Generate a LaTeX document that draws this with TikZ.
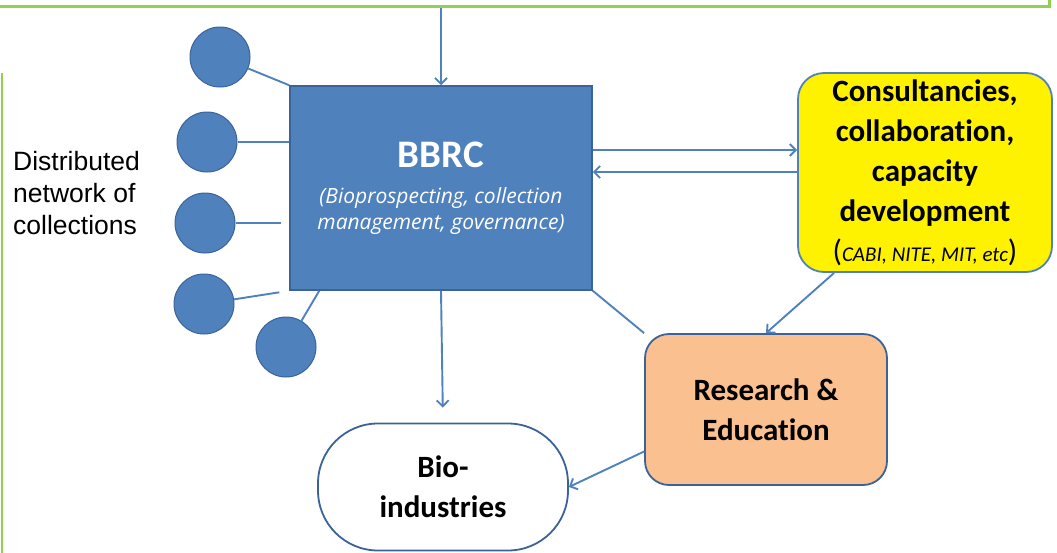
\documentclass[tikz,border=0pt]{standalone}
\usepackage{fontspec}
\setmainfont[Ligatures=NoCommon]{Carlito}
\newfontfamily\netfont{Liberation Sans}
\newfontfamily\bbrcfont{Open Sans}
\usetikzlibrary{arrows.meta,positioning}
\definecolor{bbrcblue}{HTML}{4F81BD}
\definecolor{bbrcedge}{HTML}{3A639A}
\definecolor{resorange}{HTML}{FAC090}
\definecolor{framegreen}{HTML}{92D050}

\tikzset{
  coll/.style={circle,fill=bbrcblue,draw=bbrcedge,line width=1pt,minimum size=60pt,inner sep=0pt},
  link/.style={draw=bbrcblue,line width=1.9pt},
  flow/.style={link,-{Straight Barb[length=6pt,width=12pt]}},
  boxtext/.style={font=\bfseries\fontsize{31}{40}\selectfont,align=center,inner sep=0pt}
}

\begin{document}
\begin{tikzpicture}
  [x=1pt,y=-1pt]
  \useasboundingbox (0,0) rectangle (1057,552);

  % frame parts at the edges
  \node[draw=framegreen,line width=3pt,fill=white,minimum width=1080pt,minimum height=40pt,inner sep=0pt] (plan) at (509,-14) {};
  \draw[framegreen,line width=2.5pt] (2,73) -- (2,560);

  % main boxes
  \node[fill=bbrcblue,draw=bbrcedge,line width=1.5pt,minimum width=302pt,minimum height=204pt,align=center,text=white,inner sep=0pt,
        font=\bbrcfont\itshape\fontsize{21}{26}\selectfont] (bbrc) at (441,188)
    {\normalfont\bfseries\fontsize{39}{39}\selectfont BBRC\\[10pt]
     \bbrcfont\itshape\fontsize{21}{26}\selectfont (Bioprospecting, collection\\ management, governance)};
  \node[boxtext,fill=yellow,draw=bbrcblue,line width=1.8pt,rounded corners=26pt,minimum width=254pt,minimum height=199pt] (cons) at (925,172.5)
    {Consultancies,\\ collaboration,\\ capacity\\ development\\
     \mdseries(\itshape\fontsize{21}{40}\selectfont CABI, NITE, MIT, etc\upshape\fontsize{31}{40}\selectfont)};
  \node[boxtext,fill=resorange,draw=bbrcedge,line width=1.8pt,rounded corners=24pt,minimum width=242pt,minimum height=151pt] (res) at (766,409.5)
    {Research \&\\ Education};
  \node[boxtext,fill=white,draw=bbrcedge,line width=1.8pt,rounded corners=60pt,minimum width=250pt,minimum height=127pt] (bio) at (443,487)
    {Bio-\\ industries};

  \node[align=left,anchor=north west,inner sep=0pt,font=\netfont\fontsize{26.5}{32}\selectfont] (netlabel) at (13,151)
    {Distributed\\ network of\\ collections};

  % collections
  \node[coll] (c1) at (220,57) {};
  \node[coll] (c2) at (207,142) {};
  \node[coll] (c3) at (205,223) {};
  \node[coll] (c4) at (204,304) {};
  \node[coll] (c5) at (286,347) {};

  \draw[link] (c1) -- (bbrc.north west);
  \draw[link] (c2) -- (c2 -| bbrc.west);
  \draw[link,shorten >=8pt] (c3) -- (c3 -| bbrc.west);
  \draw[link,shorten >=10pt] (c4) -- (bbrc.south west);
  \draw[link] (c5) -- ([xshift=30pt]bbrc.south west);

  % flows
  \draw[flow] (plan.south -| bbrc.north) -- (bbrc.north);
  \draw[flow] ([yshift=38pt]bbrc.east) -- ([yshift=38pt]bbrc.east -| cons.west);
  \draw[flow] ([yshift=16pt]bbrc.east -| cons.west) -- ([yshift=16pt]bbrc.east);
  \draw[flow] ([xshift=37pt]cons.south west) -- (res.north);
  \draw[link] (bbrc.south east) -- (res.north west);
  \draw[flow,shorten >=15pt] (bbrc.south) -- (bio.north);
  \draw[flow] ([yshift=-42pt]res.west) -- (bio.east);
\end{tikzpicture}
\end{document}
